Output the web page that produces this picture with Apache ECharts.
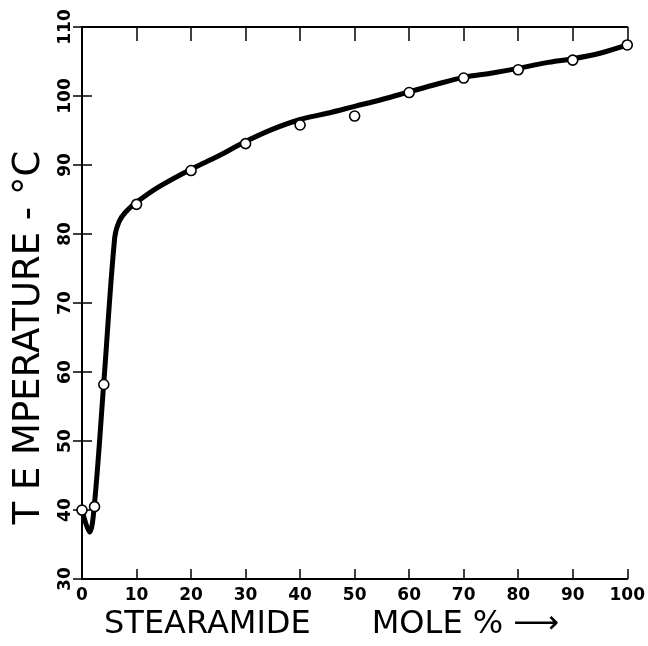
<!DOCTYPE html>
<html>
<head>
<meta charset="utf-8">
<script src="https://cdn.jsdelivr.net/npm/echarts@6/dist/echarts.min.js"></script>
<style>html,body{margin:0;padding:0;background:#fff;}#c{width:648px;height:646px;}</style>
</head>
<body>
<div id="c"></div>
<script>
const xTicks = [0, 10, 20, 30, 40, 50, 60, 70, 80, 90, 100];
const yTicks = [30, 40, 50, 60, 70, 80, 90, 100, 110];
const pointX = [0, 2.3, 4, 10, 20, 30, 40, 50, 60, 70, 80, 90, 100];
const pointY = [40, 40.5, 58.2, 84.3, 89.2, 93.1, 95.8, 97.1, 100.5, 102.6, 103.8, 105.2, 107.4];
const curveX = [0, 1.4, 2.3, 4, 6, 6.8, 8, 10, 14, 20, 25, 30, 35, 40, 45, 50, 55, 60, 65, 70, 75, 80, 85, 90, 95, 100];
const curveY = [40, 36.8, 41, 58.5, 79.5, 81.8, 83.2, 84.6, 86.8, 89.4, 91.3, 93.4, 95.2, 96.6, 97.5, 98.5, 99.5, 100.6, 101.7, 102.7, 103.3, 104.0, 104.8, 105.4, 106.2, 107.4];
const xName = 'STEARAMIDE      MOLE % ⟶';
const yName = 'T E MPERATURE - °C';

const chart = echarts.init(document.getElementById('c'));
const labelFont = {fontFamily: 'DejaVu Sans', fontWeight: 'bold', fontSize: 17, color: '#000'};
const lineStyle = {color: '#000', width: 2};
const tickStyle = {color: '#000', width: 1.5};
chart.setOption({
  animation: false,
  backgroundColor: '#fff',
  grid: {left: 82, right: 11, top: 27, bottom: 56, containLabel: false},
  xAxis: [{
    type: 'value', min: 0, max: 100, interval: 10, position: 'bottom',
    axisLine: {show: true, lineStyle: lineStyle},
    axisTick: {show: true, inside: true, length: 10, lineStyle: tickStyle},
    splitLine: {show: false},
    axisLabel: Object.assign({margin: 8, formatter: v => xTicks.includes(v) ? String(v) : ''}, labelFont),
    name: xName, nameLocation: 'middle', nameGap: 21,
    nameTextStyle: {fontFamily: 'DejaVu Sans', fontSize: 32, color: '#000', padding: [0, 46, 0, 0]}
  }, {
    type: 'value', min: 0, max: 100, interval: 10, position: 'top',
    axisLine: {show: true, lineStyle: lineStyle},
    axisTick: {show: true, inside: true, length: 14, lineStyle: tickStyle},
    axisLabel: {show: false}, splitLine: {show: false}
  }],
  yAxis: [{
    type: 'value', min: 30, max: 110, interval: 10, position: 'left',
    axisLine: {show: true, lineStyle: lineStyle},
    axisTick: {show: true, inside: true, length: 10, lineStyle: tickStyle},
    splitLine: {show: false},
    axisLabel: Object.assign({rotate: 90, margin: 8, formatter: v => yTicks.includes(v) ? String(v) : ''}, labelFont),
    name: yName, nameLocation: 'middle', nameRotate: 90, nameGap: 34,
    nameTextStyle: {fontFamily: 'DejaVu Sans', fontSize: 37, color: '#000', padding: [0, 69, 0, 0]}
  }, {
    type: 'value', min: 30, max: 110, interval: 10, position: 'right',
    axisLine: {show: true, lineStyle: lineStyle},
    axisTick: {show: true, inside: true, length: 9, lineStyle: tickStyle},
    axisLabel: {show: false}, splitLine: {show: false}
  }],
  series: [{
    type: 'line',
    data: curveX.map((x, i) => [x, curveY[i]]),
    smooth: 0.35,
    showSymbol: false, symbol: 'none',
    lineStyle: {color: '#000', width: 5},
    z: 2
  }, {
    type: 'scatter',
    data: pointX.map((x, i) => [x, pointY[i]]),
    symbol: 'circle', symbolSize: 10,
    itemStyle: {color: '#fff', opacity: 1, borderColor: '#000', borderWidth: 1.6},
    z: 3
  }]
});
</script>
</body>
</html>
